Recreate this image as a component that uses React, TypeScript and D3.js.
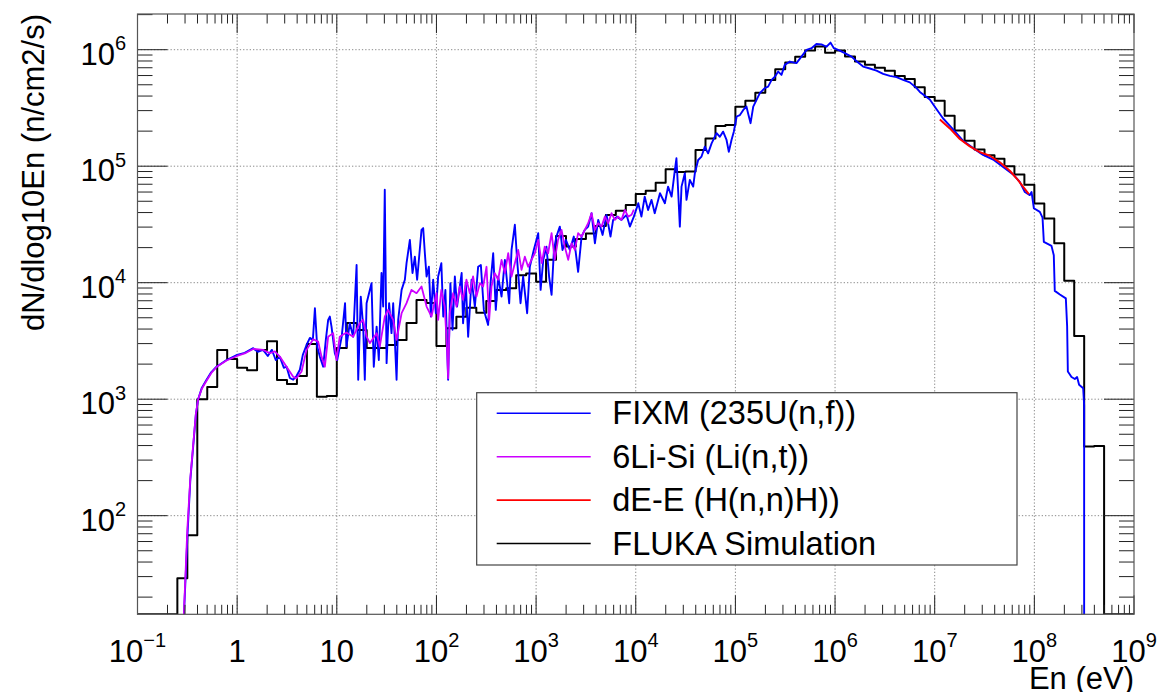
import React from "react";
import * as d3 from "d3";

// ---- layout ----
const WIDTH = 1161;
const HEIGHT = 692;
const FRAME = { x0: 137.5, x1: 1134, y0: 14, y1: 614.3 };
const FONT = "'Liberation Sans', Arial, Helvetica, sans-serif";

// ---- axes ----
const energyRange: [number, number] = [0.1, 1e9];
const fluxRange: [number, number] = [14.24, 2.025e6];
const xDecades = [-1, 0, 1, 2, 3, 4, 5, 6, 7, 8, 9];
const yDecades = [2, 3, 4, 5, 6];
const xTitle = "En (eV)";
const yTitle = "dN/dlog10En (n/cm2/s)";

// ---- FLUKA simulation: log-uniform histogram, 10 bins per decade from 0.1 eV ----
const flukaFirstEdge = 0.1;
const flukaBinsPerDecade = 10;
const flukaFlux = [
  0, 0, 0, 0, 29, 68, 1000, 1270, 2640, 2210,
  1860, 1770, 2640, 3140, 1460, 1350, 1580, 2980, 1050, 1065,
  2750, 4510, 3930, 2750, 2750, 2920, 3220, 4510, 7110, 6700,
  2860, 4060, 5110, 6100, 5530, 6960, 8660, 8950, 11600, 12000,
  10200, 15700, 25200, 20400, 23700, 26500, 30700, 38100, 41500, 46400,
  57700, 61600, 72100, 94000, 89100, 90100, 138000, 173000, 221000, 226000,
  324000, 364000, 427000, 550000, 679000, 777000, 871000, 984000, 1065000, 943000,
  984000, 876000, 792000, 744000, 700000, 661000, 594000, 560000, 476000, 393000,
  365000, 271000, 202000, 165000, 139000, 124000, 116000, 100000, 84700, 69400,
  47800, 35600, 21800, 10400, 3490, 393, 396, 0, 0, 0,
];

// ---- FIXM (235U(n,f)) ----
const fixmEnergy = [
  0.285, 0.318, 0.339, 0.362, 0.385, 0.406, 0.442, 0.493, 0.551, 0.621,
  0.783, 1.0, 1.19, 1.45, 1.61, 1.82, 2.03, 2.23, 2.44, 2.68,
  2.94, 3.13, 3.38, 3.65, 3.94, 4.26, 4.56, 4.97, 5.37, 5.75,
  6.03, 6.35, 6.76, 7.3, 7.76, 8.19, 8.51, 8.85, 9.55, 10.1,
  11.2, 12.1, 12.5, 13.5, 14.6, 15.8, 16.4, 17.4, 18.4, 19.1,
  19.9, 22.3, 23.5, 25.1, 26.4, 28.1, 29.2, 30.3, 31.6, 33.5,
  35.4, 36.8, 39.8, 41.3, 44.7, 48.2, 50.1, 54.1, 57.5, 60.7,
  64.0, 70.8, 73.6, 76.5, 79.6, 83.9, 87.9, 92.7, 98.6, 104,
  112, 117, 123, 131, 138, 145, 153, 161, 179, 185,
  197, 208, 225, 243, 262, 279, 299, 330, 349, 371,
  394, 416, 450, 486, 537, 567, 612, 645, 698, 741,
  813, 865, 948, 1050, 1110, 1180, 1270, 1350, 1430, 1510,
  1600, 1730, 1840, 1990, 2180, 2390, 2640, 2860, 3080, 3330,
  3600, 3890, 4200, 4650, 5090, 5580, 5930, 6500, 7190, 8090,
  8730, 9570, 10600, 11400, 12300, 13300, 14400, 15500, 17500, 19600,
  21100, 22900, 24700, 25600, 26600, 27700, 28800, 31100, 32300, 34900,
  37700, 39200, 42300, 45700, 49300, 53200, 57700, 64700, 69800, 75300,
  81500, 85900, 91400, 96400, 1.03e5, 1.11e5, 1.2e5, 1.29e5, 1.34e5, 1.42e5,
  1.51e5, 1.63e5, 1.76e5, 1.97e5, 2.13e5, 2.31e5, 2.49e5, 2.69e5, 2.9e5, 3.13e5,
  3.52e5, 4.1e5, 4.6e5, 5.18e5, 5.8e5, 6.51e5, 7.31e5, 8.2e5, 9.01e5, 9.73e5,
  1.074e6, 1.253e6, 1.464e6, 1.656e6, 1.914e6, 2.234e6, 2.605e6, 3.038e6, 3.546e6, 4.14e6,
  4.82e6, 5.63e6, 6.58e6, 7.1e6, 7.96e6, 8.93e6, 1.04e7, 1.21e7, 1.53e7, 1.93e7,
  2.43e7, 3.06e7, 3.86e7, 4.86e7, 6.12e7, 7.14e7, 8.03e7, 9.01e7, 9.38e7, 9.89e7,
  1.135e8, 1.208e8, 1.245e8, 1.486e8, 1.567e8, 1.603e8, 1.803e8, 2.07e8, 2.133e8, 2.168e8,
  2.36e8, 2.547e8, 2.685e8, 2.812e8, 3.09e8, 3.16e8, 3.16e8,
];
const fixmFlux = [
  8.6, 70.8, 203, 392, 733, 1000, 1250, 1470, 1710, 1900,
  2170, 2400, 2500, 2740, 2550, 2650, 2350, 2650, 2170, 2310,
  1860, 1900, 1520, 1470, 1580, 1790, 2400, 2920, 3360, 3230,
  6040, 2830, 2320, 1900, 3230, 4800, 5120, 4200, 2480, 2170,
  3440, 6670, 2830, 4490, 3440, 14200, 1470, 7600, 4200, 1470,
  6670, 9910, 1900, 4200, 2170, 12100, 6240, 62700, 2040, 6670,
  3690, 6670, 1470, 4800, 8670, 10600, 14700, 23300, 12100, 16700,
  10600, 28400, 29400, 17900, 11300, 13700, 5120, 10600, 5470, 11300,
  14700, 5120, 8670, 1470, 9910, 3940, 11300, 6240, 12100, 4490,
  9910, 3440, 10600, 6240, 13700, 14200, 5840, 4340, 9910, 17900,
  5840, 11300, 7600, 15700, 6670, 19100, 31400, 15700, 6670, 11300,
  5470, 13700, 19100, 26600, 8670, 15700, 20400, 11300, 7860, 19100,
  24900, 30300, 19100, 23300, 19100, 24900, 12400, 24900, 28400, 30300,
  39500, 21800, 34600, 25700, 38200, 24900, 34600, 36900, 34600, 38200,
  30300, 36900, 48100, 36900, 54800, 42100, 51400, 39500, 58600, 48100,
  66800, 54800, 92900, 117000, 62700, 30300, 66800, 87100, 51400, 76200,
  66800, 87100, 113000, 121000, 147000, 129000, 157000, 192000, 179000, 198000,
  168000, 133000, 168000, 198000, 267000, 275000, 304000, 325000, 285000, 234000,
  325000, 371000, 424000, 468000, 482000, 551000, 587000, 649000, 608000, 741000,
  791000, 767000, 873000, 997000, 1030000, 1120000, 1110000, 1060000, 1150000, 1030000,
  997000, 934000, 873000, 791000, 716000, 690000, 662000, 620000, 596000, 581000,
  551000, 524000, 468000, 434000, 402000, 374000, 310000, 258000, 207000, 165000,
  143000, 125000, 114000, 98400, 84900, 73300, 60000, 56500, 60000, 43500,
  40500, 36200, 22400, 20700, 17200, 8510, 7920, 7340, 4220, 1730,
  1550, 1490, 1550, 1330, 1240, 887, 1,
];

// ---- 6Li-Si (Li(n,t)) ----
const liSiEnergy = [
  0.285, 0.316, 0.339, 0.362, 0.385, 0.406, 0.442, 0.493, 0.551, 0.621,
  0.783, 1.0, 1.19, 1.45, 1.82, 2.13, 2.39, 2.68, 3.13, 3.65,
  3.94, 4.43, 4.97, 5.79, 6.5, 7.03, 7.59, 8.19, 9.19, 9.94,
  10.7, 12.5, 14.6, 17.0, 18.4, 19.9, 21.5, 25.1, 27.0, 30.3,
  32.7, 36.8, 39.8, 44.7, 50.1, 56.2, 63.1, 70.8, 79.6, 89.3,
  100, 104, 112, 121, 128, 131, 136, 147, 159, 171,
  185, 200, 216, 233, 252, 273, 294, 318, 338, 357,
  385, 416, 450, 486, 525, 567, 612, 661, 714, 771,
  832, 899, 971, 1050, 1140, 1220, 1320, 1430, 1540, 1660,
  1800, 1940, 2100, 2270, 2450, 2640, 2860, 3080, 3330, 3600,
  3890, 4200, 4540, 4900, 5280, 5710, 6170, 6660, 7190, 7780,
  8390, 9080, 9570,
];
const liSiFlux = [
  8.6, 75.2, 211, 406, 746, 1000, 1230, 1440, 1680, 1890,
  2150, 2350, 2470, 2700, 2650, 2480, 2570, 2320, 1900, 1560,
  1510, 1730, 2650, 3270, 3120, 2320, 1900, 3440, 3690, 2170,
  3440, 3730, 3440, 4490, 4800, 3440, 3030, 3690, 2830, 5120,
  5840, 4800, 3230, 5470, 6670, 8670, 8130, 9270, 6240, 5120,
  8130, 4800, 8670, 6240, 2650, 1510, 5470, 8130, 6240, 9270,
  7120, 10600, 8130, 11300, 7600, 9910, 9270, 13700, 4800, 9270,
  12100, 10600, 15700, 12100, 17900, 11300, 14700, 19100, 12900, 16700,
  13700, 15700, 17900, 23300, 14700, 20400, 17900, 26600, 15700, 23300,
  28400, 20400, 15700, 21800, 19100, 26600, 24900, 28400, 32400, 39500,
  28400, 32400, 30300, 36900, 32400, 39500, 34600, 36900, 34600, 42200,
  36900, 38300, 42300,
];

// ---- dE-E (H(n,n)H) ----
const deEEnergy = [1.127e7, 1.419e7, 1.786e7, 2.253e7, 2.838e7, 3.573e7, 4.508e7, 5.675e7, 6.871e7, 7.727e7, 8.81e7];
const deEFlux = [252000, 211000, 171000, 148000, 132000, 123000, 108000, 91400, 76000, 66400, 57700];

// ---- legend ----
const legendLabels = ["FIXM (235U(n,f))", "6Li-Si (Li(n,t))", "dE-E (H(n,n)H))", "FLUKA Simulation"];
const legendColors = ["#0000ff", "#cc00ff", "#ff0000", "#000000"];

const zip = (xs: number[], ys: number[]): [number, number][] => xs.map((v, i) => [v, ys[i]]);

export default function App() {
  const x = d3.scaleLog().domain(energyRange).range([FRAME.x0, FRAME.x1]);
  const y = d3.scaleLog().domain(fluxRange).range([FRAME.y1, FRAME.y0]);

  const line = d3
    .line<[number, number]>()
    .x((d) => x(d[0]))
    .y((d) => y(d[1]));

  // histogram as a step outline; empty bins sit on the lower frame edge
  let histPath = "";
  flukaFlux.forEach((v, i) => {
    const lo = flukaFirstEdge * Math.pow(10, i / flukaBinsPerDecade);
    const hi = flukaFirstEdge * Math.pow(10, (i + 1) / flukaBinsPerDecade);
    const yv = y(Math.max(v, fluxRange[0]));
    histPath += i === 0 ? `M${x(lo)},${yv}` : `V${yv}`;
    histPath += `H${x(hi)}`;
  });

  const xMajor = xDecades.map((k) => Math.pow(10, k));
  const yMajor = yDecades.map((k) => Math.pow(10, k));
  const xMinor: number[] = [];
  for (let k = -1; k < 9; k++) for (let m = 2; m <= 9; m++) xMinor.push(m * Math.pow(10, k));
  const yMinor: number[] = [];
  for (let k = 1; k <= 6; k++)
    for (let m = 2; m <= 9; m++) {
      const v = m * Math.pow(10, k);
      if (v > fluxRange[0] && v < fluxRange[1]) yMinor.push(v);
    }

  const ticks: string[] = [];
  const xMajLen = 19, xMinLen = 9.5, yMajLen = 30, yMinLen = 15;
  xMajor.forEach((v) => {
    const px = x(v);
    ticks.push(`M${px},${FRAME.y1}v${-xMajLen}M${px},${FRAME.y0}v${xMajLen}`);
  });
  xMinor.forEach((v) => {
    const px = x(v);
    ticks.push(`M${px},${FRAME.y1}v${-xMinLen}M${px},${FRAME.y0}v${xMinLen}`);
  });
  yMajor.forEach((v) => {
    const py = y(v);
    ticks.push(`M${FRAME.x0},${py}h${yMajLen}M${FRAME.x1},${py}h${-yMajLen}`);
  });
  yMinor.forEach((v) => {
    const py = y(v);
    ticks.push(`M${FRAME.x0},${py}h${yMinLen}M${FRAME.x1},${py}h${-yMinLen}`);
  });

  const supDy = -14.5;
  const supSize = 20;
  const labelSize = 31;

  const legend = { x: 476.7, y: 392.7, w: 540.3, h: 172.3, rowY0: 413.3, rowStep: 43.4 };

  return (
    <svg
      width={WIDTH}
      height={HEIGHT}
      viewBox={`0 0 ${WIDTH} ${HEIGHT}`}
      style={{ position: "absolute", left: 0, top: 0, background: "#ffffff" }}
      fontFamily={FONT}
    >
      <defs>
        <clipPath id="frameClip">
          <rect x={FRAME.x0} y={FRAME.y0} width={FRAME.x1 - FRAME.x0} height={FRAME.y1 - FRAME.y0} />
        </clipPath>
      </defs>
      <rect x={0} y={0} width={WIDTH} height={HEIGHT} fill="#ffffff" />

      {/* grid */}
      <g stroke="#8a8a8a" strokeWidth={1} strokeDasharray="1.3,2">
        {xMajor
          .filter((v) => v > energyRange[0] && v < energyRange[1])
          .map((v) => (
            <line key={`gx${v}`} x1={x(v)} x2={x(v)} y1={FRAME.y0} y2={FRAME.y1} />
          ))}
        {yMajor.map((v) => (
          <line key={`gy${v}`} x1={FRAME.x0} x2={FRAME.x1} y1={y(v)} y2={y(v)} />
        ))}
      </g>

      {/* data */}
      <g clipPath="url(#frameClip)" fill="none" strokeLinejoin="round">
        <path d={histPath} stroke="#000000" strokeWidth={2} />
        <path d={line(zip(fixmEnergy, fixmFlux)) || ""} stroke="#0000ff" strokeWidth={1.9} />
        <path d={line(zip(liSiEnergy, liSiFlux)) || ""} stroke="#cc00ff" strokeWidth={1.8} />
        <path d={line(zip(deEEnergy, deEFlux)) || ""} stroke="#ff0000" strokeWidth={2} />
      </g>

      {/* frame and ticks */}
      <path d={ticks.join("")} stroke="#222" strokeWidth={1} fill="none" />
      <rect
        x={FRAME.x0}
        y={FRAME.y0}
        width={FRAME.x1 - FRAME.x0}
        height={FRAME.y1 - FRAME.y0}
        fill="none"
        stroke="#555"
        strokeWidth={1.2}
      />

      {/* x tick labels */}
      <g fontSize={labelSize} fill="#000" textAnchor="middle">
        {xDecades.map((k) => (
          <text key={`xl${k}`} x={x(Math.pow(10, k))} y={661.7}>
            {k === 0 ? "1" : k === 1 ? "10" : (
              <>
                10
                <tspan dy={supDy} fontSize={supSize}>
                  {k < 0 ? `\u2212${-k}` : `${k}`}
                </tspan>
              </>
            )}
          </text>
        ))}
      </g>

      {/* y tick labels */}
      <g fontSize={labelSize} fill="#000" textAnchor="end">
        {yDecades.map((k) => (
          <text key={`yl${k}`} x={126} y={y(Math.pow(10, k)) + 15.3}>
            10
            <tspan dy={supDy} fontSize={supSize}>
              {`${k}`}
            </tspan>
          </text>
        ))}
      </g>

      {/* axis titles */}
      <text x={FRAME.x1} y={688.5} fontSize={labelSize} textAnchor="end" fill="#000">
        {xTitle}
      </text>
      <text transform={`translate(43.5,${FRAME.y0}) rotate(-90)`} fontSize={labelSize} textAnchor="end" fill="#000">
        {yTitle}
      </text>

      {/* legend */}
      <rect x={legend.x} y={legend.y} width={legend.w} height={legend.h} fill="#ffffff" stroke="#444" strokeWidth={1.2} />
      {legendLabels.map((lab, i) => {
        const ly = legend.rowY0 + i * legend.rowStep;
        return (
          <g key={lab}>
            <line x1={496.7} x2={590.7} y1={ly} y2={ly} stroke={legendColors[i]} strokeWidth={1.6} />
            <text x={612.3} y={ly + 11} fontSize={32.5} fill="#000">
              {lab}
            </text>
          </g>
        );
      })}
    </svg>
  );
}
